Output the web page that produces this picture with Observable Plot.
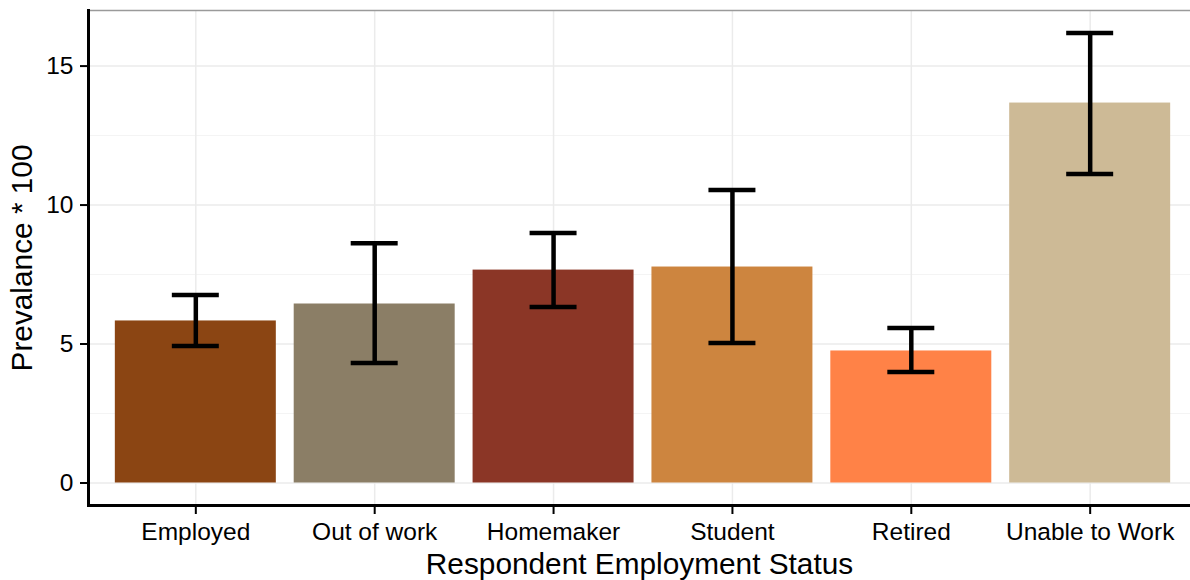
<!DOCTYPE html>
<html>
<head>
<meta charset="utf-8">
<script src="https://cdn.jsdelivr.net/npm/d3@7"></script>
<script src="https://cdn.jsdelivr.net/npm/@observablehq/plot@0.6"></script>
<style>
  html, body { margin: 0; padding: 0; background: #fff; overflow: hidden; }
  #chart svg { display: block; }
</style>
</head>
<body>
<div id="chart"></div>
<script>
const categories = ["Employed", "Out of work", "Homemaker", "Student", "Retired", "Unable to Work"];
const prevalence = [5.83, 6.44, 7.66, 7.77, 4.75, 13.67];
const lower = [4.93, 4.32, 6.33, 5.04, 3.99, 11.12];
const upper = [6.76, 8.63, 8.99, 10.54, 5.58, 16.19];
const colors = ["#8B4513", "#8B7E66", "#8B3626", "#CD853F", "#FF8247", "#CDBA96"];
const yTicks = [0, 5, 10, 15];
const yMinorTicks = [2.5, 7.5, 12.5];
const yDomain = [-0.81, 17.0];

const data = categories.map((c, i) => ({cat: c, value: prevalence[i], lo: lower[i], hi: upper[i]}));

const font = "'Liberation Sans', Arial, Helvetica, sans-serif";

const chart = Plot.plot({
  width: 1190,
  height: 580,
  marginTop: 10,
  marginBottom: 75,
  marginLeft: 88,
  marginRight: 0,
  style: {fontFamily: font, background: "#fff", color: "#000"},
  x: {domain: categories, range: [88, 1197], paddingInner: 0.1, paddingOuter: 0.15, round: false},
  y: {domain: yDomain},
  color: {domain: categories, range: colors},
  marks: [
    Plot.ruleY(yMinorTicks, {stroke: "#f4f4f4", strokeWidth: 1}),
    Plot.ruleY(yTicks, {stroke: "#ebebeb", strokeWidth: 1.5}),
    Plot.ruleX(categories, {x: d => d, stroke: "#ebebeb", strokeWidth: 1.5}),
    Plot.ruleY([yDomain[1]], {stroke: "#9a9a9a", strokeWidth: 1.5}),
    Plot.barY(data, {x: "cat", y: "value", fill: "cat"}),
    Plot.ruleX(data, {x: "cat", y1: "lo", y2: "hi", stroke: "#000", strokeWidth: 4.5}),
    Plot.tickY(data, {x: "cat", y: "lo", stroke: "#000", strokeWidth: 4.5, insetLeft: 57, insetRight: 57}),
    Plot.tickY(data, {x: "cat", y: "hi", stroke: "#000", strokeWidth: 4.5, insetLeft: 57, insetRight: 57}),
    Plot.axisY(yTicks, {
      tickSize: 8, tickPadding: 7, fontSize: 24.5, stroke: "#000", strokeWidth: 2, fill: "#000",
      label: "Prevalance * 100", labelArrow: "none", labelAnchor: "center", labelOffset: 78
    }),
    Plot.axisX({
      tickSize: 9, tickPadding: 8, fontSize: 24.5, stroke: "#000", strokeWidth: 2, fill: "#000",
      label: "Respondent Employment Status", labelArrow: "none", labelAnchor: "center", labelOffset: 68
    }),
    Plot.ruleY([yDomain[0]], {stroke: "#000", strokeWidth: 3}),
    Plot.frame({anchor: "left", stroke: "#000", strokeWidth: 3})
  ]
});

// larger font for axis titles
chart.querySelectorAll("[aria-label='y-axis label'], [aria-label='x-axis label']").forEach(g => g.setAttribute("font-size", 29.8));
document.getElementById("chart").appendChild(chart);
</script>
</body>
</html>
